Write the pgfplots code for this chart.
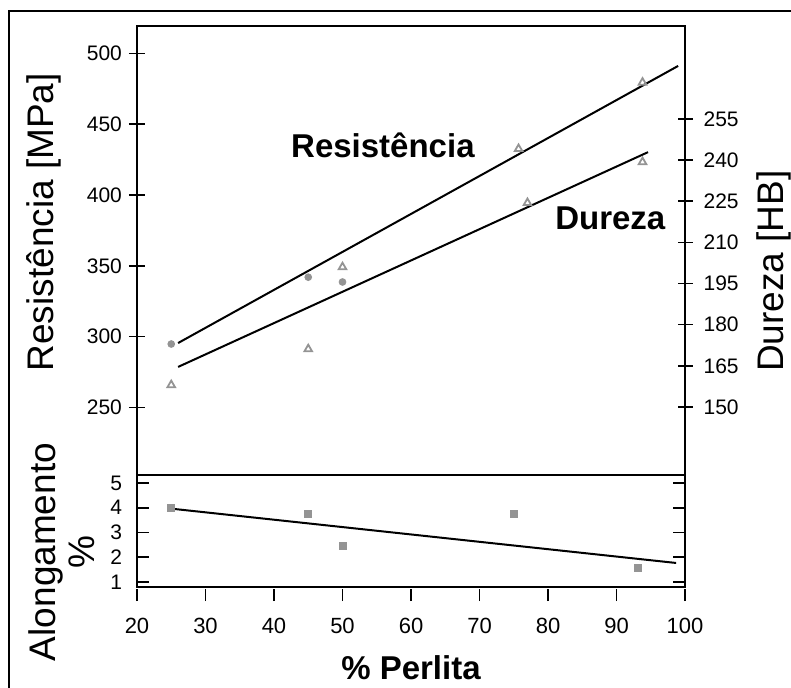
\documentclass[border=0pt]{standalone}
\usepackage{pgfplots}
\pgfplotsset{compat=1.18}
\usepackage{fontspec}
\setmainfont{Liberation Sans}
\definecolor{mk}{gray}{0.58}
\begin{document}
\begin{tikzpicture}
\useasboundingbox (-68.5pt,-106.5pt) rectangle (327pt,237.5pt);
\draw[line width=0.7pt] (-64pt,-110pt) -- (-64pt,232pt) -- (330pt,232pt);
\pgfplotsset{
 every axis/.append style={
  scale only axis, width=274pt, xmin=20, xmax=100,
  axis line style={line width=1.1pt},
  every tick/.style={black, line width=0.8pt},
  ticklabel style={font=\fontsize{10.5}{12}\selectfont},
  /pgf/number format/assume math mode=true,
 }
}
% upper panel, primary axis (Resistencia)
\begin{axis}[at={(0,0)}, anchor=south west, height=224.5pt,
 ymin=202.3, ymax=519.4, xtick=\empty, ytick={250,300,...,500}, ytick pos=left,
 tick align=center, major tick length=8pt,
 ylabel={Resistência [MPa]},
 every axis y label/.style={at={(axis description cs:0,0.563)}, xshift=-46.5pt, rotate=90, anchor=center, font=\fontsize{18.5}{22}\selectfont},
 ]
\addplot[black, line width=1pt] coordinates {(26,295.5) (99,491.2)};
\addplot[only marks, mark=*, mark size=1.7pt, mk] coordinates {(25,294.8) (45,342) (50,338.6)};
\addplot[only marks, mark=triangle, mark size=2.2pt, mk, mark options={line width=0.9pt}] coordinates {(75.7,432.6) (93.8,479.5)};
\node[font=\bfseries\fontsize{16.5}{20}\selectfont] at (axis cs:55.9,435.4) {Resistência};
\node[font=\bfseries\fontsize{16.5}{20}\selectfont] at (axis cs:89.1,383.8) {Dureza};
\end{axis}
% upper panel, secondary axis (Dureza)
\begin{axis}[at={(0,0)}, anchor=south west, height=224.5pt,
 ymin=125.2, ymax=288.9, axis y line*=right, axis x line=none,
 ytick={150,165,...,255}, tick align=center, major tick length=7.5pt,
 yticklabel style={xshift=2pt},
 ylabel={Dureza [HB]},
 every axis y label/.style={at={(axis description cs:1,0.454)}, xshift=44.5pt, rotate=90, anchor=center, font=\fontsize{18.5}{22}\selectfont},
 ]
\addplot[black, line width=1pt] coordinates {(26,164.6) (94.6,242.9)};
\addplot[only marks, mark=triangle, mark size=2.2pt, mk, mark options={line width=0.9pt}] coordinates {(25,158) (45,171.1) (50,201) (77,224.4) (93.8,239.3)};
\end{axis}
% lower panel (Alongamento)
\begin{axis}[at={(0,0)}, anchor=north west, height=56pt,
 ymin=0.8, ymax=5.32,
 xtick={20,30,...,100}, xtick pos=bottom,
 ytick={1,2,3,4,5}, ytick pos=both, yticklabel pos=left,
 tick align=inside, major tick length=6pt,
 xtick style={yshift=-7pt, line width=0.9pt},
 xticklabel style={yshift=-12pt, font=\fontsize{11}{12}\selectfont},
 yticklabel style={xshift=-4pt},
 xlabel={\% Perlita},
 every axis x label/.style={at={(axis description cs:0.5,0)}, yshift=-40.5pt, anchor=center, font=\bfseries\fontsize{16.5}{20}\selectfont},
 ylabel={Alongamento\\\%},
 every axis y label/.style={at={(axis description cs:0,0.3125)}, xshift=-37.5pt, rotate=90, anchor=center, align=center, font=\fontsize{18.5}{19.5}\selectfont},
 ]
\addplot[black, line width=1pt] coordinates {(25.4,3.95) (98.7,1.77)};
\addplot[only marks, mark=square*, mark size=1.8pt, mk] coordinates {(25,4.0) (45,3.75) (50,2.45) (75,3.75) (93.1,1.57)};
\end{axis}
\end{tikzpicture}
\end{document}
